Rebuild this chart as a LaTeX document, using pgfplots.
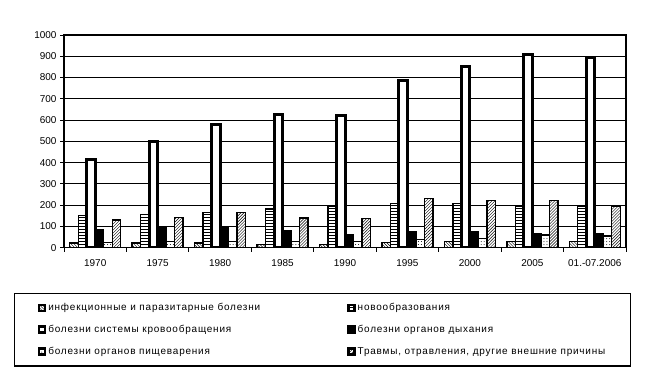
\documentclass[border=0pt]{standalone}
\usepackage{fontspec}
\setmainfont{Liberation Sans}
\newfontfamily\legfont[LetterSpace=8]{Liberation Sans}
\usepackage{pgfplots}
\pgfplotsset{compat=1.18}
\usetikzlibrary{patterns}
\begin{document}
\begin{tikzpicture}[x=1bp,y=1bp]
\useasboundingbox (0,0) rectangle (653,-388);
\begin{axis}[
  at={(64bp,-247.7bp)}, anchor=south west,
  width=562bp, height=212.7bp, scale only axis,
  xmin=0.5, xmax=9.5, ymin=0, ymax=1000,
  ybar=0pt, bar width=8.5bp,
  xtick={1,...,9},
  xticklabels={1970,1975,1980,1985,1990,1995,2000,2005,{01.-07.2006}},
  minor xtick={0.5,1.5,...,9.5},
  ytick={0,100,...,1000},
  xtick pos=bottom, ytick pos=left,
  tick align=outside,
  major tick length=4bp, minor tick length=4bp,
  tick style={black, line width=1bp},
  major x tick style={draw=none},
  ymajorgrids, major grid style={black, line width=1bp},
  axis line style={black, line width=1.2bp},
  tick label style={font=\fontsize{10}{12}\selectfont},
  xticklabel style={yshift=-4bp},
  /pgf/number format/assume math mode=true,
  /pgf/number format/1000 sep={},
  legend columns=2,
  legend cell align=left,
  legend image code/.code={\draw[#1, line width=2.6bp] (0.5bp,-3bp) rectangle (6.5bp,3bp);},
  legend style={at={(axis description cs:-0.0890,-0.2116)}, anchor=north west,
    draw=black, line width=1.5bp, inner xsep=23bp, inner ysep=8bp, row sep=9bp,
    font=\legfont\fontsize{10}{12}\selectfont,
    /tikz/every even column/.append style={column sep=85bp}},
]
\addplot[draw=black, line width=1.4bp, fill=white, postaction={pattern=north west lines}]
  coordinates {(1,22) (2,22) (3,22) (4,15) (5,15) (6,25) (7,28) (8,28) (9,28)};
\addplot[draw=black, line width=1.4bp, fill=white, postaction={pattern=horizontal lines}]
  coordinates {(1,152) (2,157) (3,165) (4,182) (5,197) (6,208) (7,208) (8,197) (9,197)};
\addplot[draw=black, line width=3bp, fill=white]
  coordinates {(1,415) (2,498) (3,580) (4,627) (5,620) (6,785) (7,850) (8,907) (9,892)};
\addplot[draw=black, line width=1.4bp, fill=black]
  coordinates {(1,87) (2,98) (3,98) (4,82) (5,60) (6,73) (7,73) (8,65) (9,67)};
\addplot[draw=black, line width=1.4bp, fill=white, postaction={pattern=dots}]
  coordinates {(1,25) (2,30) (3,30) (4,28) (5,28) (6,40) (7,42) (8,60) (9,55)};
\addplot[draw=black, line width=1.4bp, fill=white, postaction={pattern=north east lines}]
  coordinates {(1,130) (2,143) (3,166) (4,140) (5,138) (6,232) (7,221) (8,221) (9,194)};
\legend{инфекционные и паразитарные болезни, новообразования,
  болезни системы кровообращения, болезни органов дыхания,
  болезни органов пищеварения, {Травмы, отравления, другие внешние причины}}
\end{axis}
\end{tikzpicture}
\end{document}
